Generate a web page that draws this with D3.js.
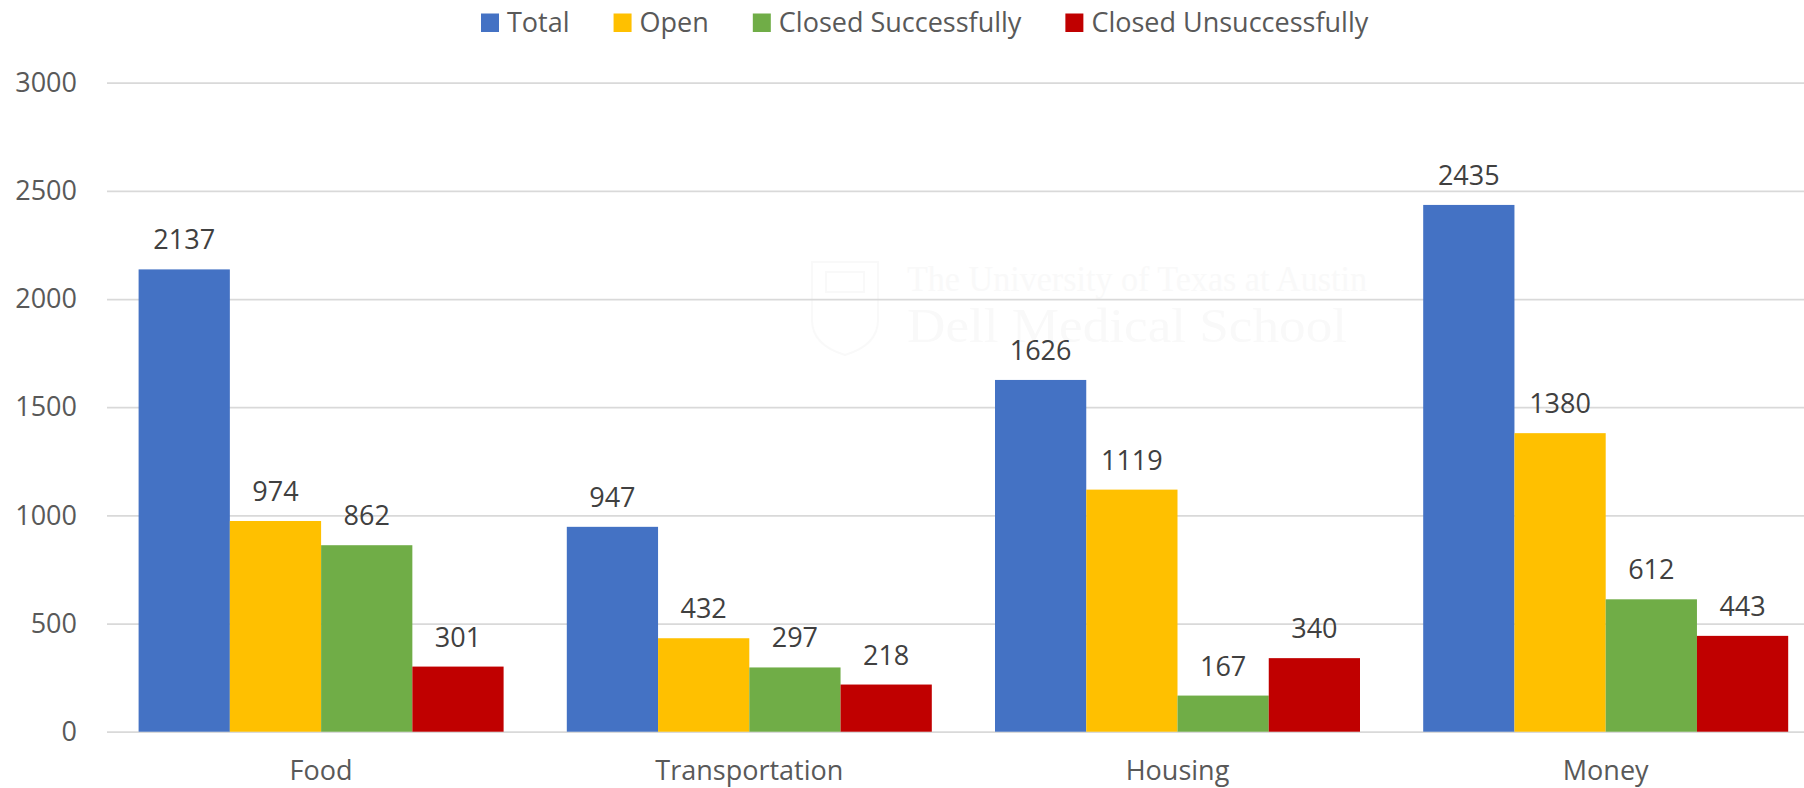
<!DOCTYPE html>
<html>
<head>
<meta charset="utf-8">
<script src="https://cdn.jsdelivr.net/npm/d3@7"></script>
<style>
  body { margin: 0; background: #fff; }
  svg { display: block; font-family: "Open Sans", sans-serif; }
</style>
</head>
<body>
<div id="chart"></div>
<script>
// chart data
var categories = ["Food", "Transportation", "Housing", "Money"];
var seriesNames = ["Total", "Open", "Closed Successfully", "Closed Unsuccessfully"];
var total = [2137, 947, 1626, 2435];
var open = [974, 432, 1119, 1380];
var closedOk = [862, 297, 167, 612];
var closedFail = [301, 218, 340, 443];
var yTicks = [0, 500, 1000, 1500, 2000, 2500, 3000];

var seriesValues = [total, open, closedOk, closedFail];
var colors = ["#4472C4", "#FFC000", "#70AD47", "#C00000"];

var W = 1804, H = 788;
var left = 107, bandW = 428.2, gap = 31.6;
var y0 = 731.7, y3000 = 82.7;

var svg = d3.select("#chart").append("svg")
    .attr("width", W)
    .attr("height", H);

// very faint watermark behind the plot
var wm = svg.append("g").attr("fill", "none").attr("stroke", "#f9f9f9").attr("stroke-width", 2);
wm.append("path")
    .attr("d", "M812,262 L878,262 L878,320 Q878,345 845,355 Q812,345 812,320 Z");
wm.append("rect").attr("x", 826).attr("y", 272).attr("width", 38).attr("height", 20);
svg.append("text")
    .attr("x", 907).attr("y", 291)
    .attr("font-family", "Liberation Serif, serif")
    .attr("font-size", 36)
    .attr("textLength", 460).attr("lengthAdjust", "spacingAndGlyphs")
    .attr("fill", "#f9f9f9")
    .text("The University of Texas at Austin");
svg.append("text")
    .attr("x", 907).attr("y", 342)
    .attr("font-family", "Liberation Serif, serif")
    .attr("font-size", 48)
    .attr("textLength", 440).attr("lengthAdjust", "spacingAndGlyphs")
    .attr("fill", "#f9f9f9")
    .text("Dell Medical School");

// scales
var x = d3.scaleBand()
    .domain(categories)
    .range([left, left + 4 * bandW]);

var xInner = d3.scaleBand()
    .domain(d3.range(seriesNames.length))
    .range([gap, bandW - gap]);

var y = d3.scaleLinear()
    .domain([0, 3000])
    .range([y0, y3000]);

// gridlines + y labels
var yAxis = svg.append("g")
    .attr("transform", "translate(" + left + ",0)")
    .call(d3.axisLeft(y).tickValues(yTicks).tickFormat(d3.format("d"))
        .tickSize(-(W - left)).tickPadding(30));
yAxis.select(".domain").remove();
yAxis.selectAll(".tick line")
    .attr("stroke", "#d9d9d9")
    .attr("stroke-width", 1.8);
yAxis.selectAll(".tick text")
    .attr("font-family", "Open Sans, sans-serif")
    .attr("font-size", 27)
    .attr("fill", "#595959");

// bars
var groups = svg.selectAll(".cat")
    .data(categories)
    .enter()
    .append("g")
    .attr("class", "cat")
    .attr("transform", function(d) { return "translate(" + x(d) + ",0)"; });

groups.selectAll("rect")
    .data(function(d, i) {
        return seriesValues.map(function(s, k) { return { k: k, v: s[i] }; });
    })
    .enter()
    .append("rect")
    .attr("x", function(d) { return xInner(d.k); })
    .attr("width", xInner.bandwidth())
    .attr("y", function(d) { return y(d.v); })
    .attr("height", function(d) { return y0 - y(d.v); })
    .style("fill", function(d) { return colors[d.k]; });

// data labels
groups.selectAll(".lbl")
    .data(function(d, i) {
        return seriesValues.map(function(s, k) { return { k: k, v: s[i] }; });
    })
    .enter()
    .append("text")
    .attr("class", "lbl")
    .attr("x", function(d) { return xInner(d.k) + xInner.bandwidth() / 2; })
    .attr("y", function(d) { return y(d.v) - 20; })
    .attr("text-anchor", "middle")
    .attr("font-size", 27)
    .attr("fill", "#404040")
    .text(function(d) { return d.v; });

// category labels
svg.selectAll(".catlbl")
    .data(categories)
    .enter()
    .append("text")
    .attr("class", "catlbl")
    .attr("x", function(d) { return x(d) + bandW / 2; })
    .attr("y", 780)
    .attr("text-anchor", "middle")
    .attr("font-size", 27)
    .attr("fill", "#595959")
    .text(function(d) { return d; });

// legend
var legend = svg.append("g");
var lx = 481;
seriesNames.forEach(function(name, k) {
    legend.append("rect")
        .attr("x", lx).attr("y", 13.5)
        .attr("width", 18).attr("height", 18.5)
        .style("fill", colors[k]);
    var t = legend.append("text")
        .attr("x", lx + 26).attr("y", 32)
        .attr("font-size", 27)
        .attr("fill", "#595959")
        .text(name);
    lx = lx + 26 + t.node().getComputedTextLength() + 44;
});
</script>
</body>
</html>
